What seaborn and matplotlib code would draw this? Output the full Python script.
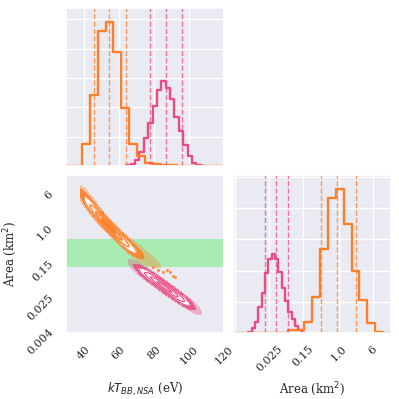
import numpy as np
import pandas as pd
import seaborn as sns
import matplotlib.pyplot as plt
from matplotlib.ticker import MultipleLocator, FixedLocator, FixedFormatter, NullLocator

# ------------------------------------------------
# Data
# ------------------------------------------------
orange = "#fd7f28"
pink = "#e94c84"

# kT histograms (eV)
kt_edges_orange = np.linspace(30, 120, 21)
kt_counts_orange = [0, 0, 76, 241, 459, 489, 389, 198, 76, 34, 10, 6, 3, 2, 1, 0, 0, 0, 0, 0]
kt_edges_pink = np.linspace(64.3, 109.3, 19)
kt_counts_pink = [3, 6, 19, 48, 97, 147, 203, 258, 289, 267, 228, 167, 119, 70, 35, 10, 3, 1]

# Area histograms (log10 km^2)
area_edges_orange = np.linspace(np.log10(0.0036), np.log10(16), 21)
area_counts_orange = [0, 0, 0, 0, 0, 0, 0, 9, 10, 36, 116, 268, 433, 460, 350, 199, 105, 31, 4, 1]
area_edges_pink = np.linspace(-2.09, -0.781, 18)
area_counts_pink = [4, 15, 36, 84, 129, 193, 238, 252, 238, 196, 143, 103, 68, 44, 22, 10, 1]

# 16/50/84 % quantiles
kt_q_orange = [46.1, 54.5, 64.0]
kt_q_pink = [77.8, 86.8, 96.2]
area_q_orange = [0.381, 0.923, 2.49]
area_q_pink = [0.0197, 0.0348, 0.0681]

# ridge of the joint cloud: log10(Area) at the kT bin centres
ridge_kt_orange = [41.25, 45.75, 50.25, 54.75, 59.25, 63.75, 68.25, 72.75, 77.25, 81.75, 86.25, 90.75]
ridge_loga_orange = [0.72, 0.42, 0.19, 0.00, -0.18, -0.36, -0.49, -0.59, -0.70, -0.83, -0.97, -1.10]
ridge_w_orange = [76, 241, 459, 489, 389, 198, 76, 34, 10, 6, 3, 2]
halfwidth_orange = 0.1
kt_min_orange = 38.5

ridge_kt_pink = [65.55, 68.05, 70.55, 73.05, 75.55, 78.05, 80.55, 83.05, 85.55,
                 88.05, 90.55, 93.05, 95.55, 98.05, 100.55, 103.05, 105.55, 108.05]
ridge_loga_pink = [-0.80, -0.87, -0.94, -1.01, -1.08, -1.15, -1.22, -1.29, -1.37,
                   -1.44, -1.51, -1.58, -1.65, -1.72, -1.79, -1.86, -1.93, -2.00]
ridge_w_pink = kt_counts_pink
halfwidth_pink = 0.1
kt_min_pink = 65.5

# profile across the ridge (offset in units of the half width, relative weight)
across_offset = [-1.0, -0.5, 0.0, 0.5, 1.0]
across_weight = [1, 2, 3, 2, 1]

# sparse orange samples in the tail
tail_kt = [79.7, 82.6, 85.4, 87.3, 89.2, 91.1, 92.1]
tail_area = [0.122, 0.103, 0.094, 0.103, 0.094, 0.074, 0.069]

# shaded band
band = (0.12, 0.53)

kt_range = (30, 120)
area_range = (0.0036, 16)
kt_ticks = [40, 60, 80, 100, 120]
area_ticks = [0.004, 0.025, 0.15, 1.0, 6]
area_ticklabels = ["0.004", "0.025", "0.15", "1.0", "6"]

# ------------------------------------------------
# Style
# ------------------------------------------------
sns.set_theme(style="darkgrid")
plt.rcParams["font.family"] = "serif"
plt.rcParams["font.serif"] = ["DejaVu Serif"]
plt.rcParams["xtick.labelsize"] = 8
plt.rcParams["ytick.labelsize"] = 8
plt.rcParams["axes.labelsize"] = 8.5
plt.rcParams["xtick.major.pad"] = 2
plt.rcParams["ytick.major.pad"] = 2

fig = plt.figure(figsize=(3.99, 3.99), dpi=100)
ax_top = fig.add_axes([66 / 399, 233 / 399, 158 / 399, 158 / 399])
ax_2d = fig.add_axes([66 / 399, 66 / 399, 158 / 399, 158 / 399])
ax_right = fig.add_axes([233 / 399, 66 / 399, 158 / 399, 158 / 399])


def centers(edges):
    e = np.asarray(edges)
    return (e[1:] + e[:-1]) / 2


def step_hist(ax, x, counts, edges, color, log=False):
    df = pd.DataFrame({"x": x, "n": np.asarray(counts, float)})
    sns.histplot(data=df, x="x", weights="n", bins=list(edges), element="step", fill=False,
                 color=color, linewidth=1.7, log_scale=log, ax=ax)


# ------------------------------------------------
# Top: kT marginal
# ------------------------------------------------
step_hist(ax_top, centers(kt_edges_pink), kt_counts_pink, kt_edges_pink, pink)
step_hist(ax_top, centers(kt_edges_orange), kt_counts_orange, kt_edges_orange, orange)
for q in kt_q_pink:
    ax_top.axvline(q, color=pink, ls="--", lw=1, alpha=0.75)
for q in kt_q_orange:
    ax_top.axvline(q, color=orange, ls="--", lw=1, alpha=0.75)
ax_top.set_xlim(*kt_range)
ax_top.set_ylim(0, 1.1 * max(kt_counts_orange))
ax_top.xaxis.set_major_locator(FixedLocator(kt_ticks))
ax_top.yaxis.set_major_locator(MultipleLocator(100))
ax_top.set_xticklabels([])
ax_top.set_yticklabels([])
ax_top.set_xlabel("")
ax_top.set_ylabel("")

# ------------------------------------------------
# Right: Area marginal
# ------------------------------------------------
step_hist(ax_right, 10 ** centers(area_edges_pink), area_counts_pink, area_edges_pink, pink, log=True)
step_hist(ax_right, 10 ** centers(area_edges_orange), area_counts_orange, area_edges_orange, orange, log=True)
for q in area_q_pink:
    ax_right.axvline(q, color=pink, ls="--", lw=1, alpha=0.75)
for q in area_q_orange:
    ax_right.axvline(q, color=orange, ls="--", lw=1, alpha=0.75)
ax_right.set_xlim(*area_range)
ax_right.set_ylim(0, 1.1 * max(area_counts_orange))
ax_right.xaxis.set_major_locator(FixedLocator(area_ticks))
ax_right.xaxis.set_major_formatter(FixedFormatter([""] + area_ticklabels[1:]))
ax_right.xaxis.set_minor_locator(NullLocator())
ax_right.yaxis.set_major_locator(MultipleLocator(100))
ax_right.set_yticklabels([])
ax_right.set_ylabel("")
ax_right.set_xlabel(r"Area (km$^2$)")
for lab in ax_right.get_xticklabels():
    lab.set_rotation(45)


# ------------------------------------------------
# Bottom-left: joint cloud
# ------------------------------------------------
def cloud_points(kt, loga, hw, w):
    kt = np.asarray(kt, float)
    loga = np.asarray(loga, float)
    w = np.asarray(w, float)
    xs, ys, ws = [], [], []
    for off, aw in zip(across_offset, across_weight):
        xs.append(kt)
        ys.append(10 ** (loga + off * hw))
        ws.append(w * aw)
    return np.concatenate(xs), np.concatenate(ys), np.concatenate(ws)


def draw_cloud(ax, pts, kt_min, color, shades):
    x, y, w = pts
    kw = dict(x=x, y=y, weights=w, bw_method=0.5, log_scale=(False, True),
              clip=((kt_min, None), (None, None)),
              color=color, gridsize=250, ax=ax)
    sns.kdeplot(fill=True, levels=[0.01, 1.0], colors=[color], alpha=0.35, **kw)
    sns.kdeplot(fill=True, levels=[0.05, 1.0], colors=[color], alpha=0.85, **kw)
    sns.kdeplot(fill=True, levels=[0.135, 0.325, 0.607, 0.882, 1.0], colors=shades, **kw)
    sns.kdeplot(fill=False, levels=[0.135, 0.325, 0.607, 0.882], colors=[color],
                linewidths=0.8, **kw)


ax_2d.axhspan(*band, color="#a9ecb3", lw=0, zorder=0)
draw_cloud(ax_2d, cloud_points(ridge_kt_pink, ridge_loga_pink, halfwidth_pink, ridge_w_pink),
           kt_min_pink, pink, ["#ffffff", "#fdf2f6", "#fbe3ec", "#f7cadb"])
draw_cloud(ax_2d, cloud_points(ridge_kt_orange, ridge_loga_orange, halfwidth_orange, ridge_w_orange),
           kt_min_orange, orange, ["#ffffff", "#fee3cf", "#fdb58a", "#fd8a3c"])
ax_2d.scatter(tail_kt, tail_area, color=orange, s=5, lw=0, alpha=0.8)

ax_2d.set_yscale("log")
ax_2d.set_xlim(*kt_range)
ax_2d.set_ylim(*area_range)
ax_2d.grid(False)
ax_2d.xaxis.set_major_locator(FixedLocator(kt_ticks))
ax_2d.yaxis.set_major_locator(FixedLocator(area_ticks))
ax_2d.yaxis.set_major_formatter(FixedFormatter(area_ticklabels))
ax_2d.yaxis.set_minor_locator(NullLocator())
ax_2d.set_xlabel(r"$kT_{BB,NSA}$ (eV)")
ax_2d.set_ylabel(r"Area (km$^2$)")
for lab in ax_2d.get_xticklabels() + ax_2d.get_yticklabels():
    lab.set_rotation(45)

for ax in (ax_2d, ax_right):
    ax.xaxis.set_label_coords(0.5, -0.3)
ax_2d.yaxis.set_label_coords(-0.3, 0.5)

plt.savefig("out.png", dpi=100)
